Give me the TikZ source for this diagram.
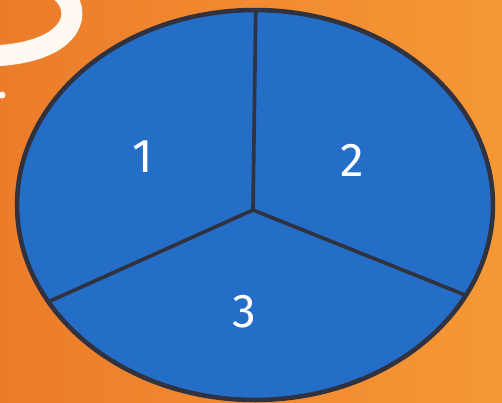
\documentclass[tikz,border=0pt]{standalone}
\usepackage{fontspec}
\setsansfont{Fira Sans}
\usepackage{xcolor}
\usetikzlibrary{calc}
\definecolor{bgOrange}{RGB}{236, 124, 42}
\definecolor{bgAmber}{RGB}{246, 152, 54}
\definecolor{pieBlue}{RGB}{36, 110, 200}
\definecolor{rimGrey}{RGB}{48, 50, 64}

\begin{document}
\begin{tikzpicture}[x=0.02cm, y=-0.02cm,
    num/.style={text=white, font=\fontsize{27}{30}\selectfont\sffamily},
    rim/.style={draw=rimGrey, line width=2.6pt},
    cut/.style={draw=rimGrey, line width=2.1pt}
]
\fill[left color=bgOrange, right color=bgAmber] (0,0) rectangle (502,402);
\useasboundingbox (0,0) rectangle (502,402);

% white letter stroke, top left
\draw[white!95!orange, line width=0.42cm] (52,-14) .. controls (84,0) and (86,52) .. (-8,56);
\fill[white!95!orange] (2,95) circle [radius=0.07cm];

\coordinate (hub)  at (253,210);
\coordinate (tipA) at (256,-10);
\coordinate (tipB) at (-10,328);
\coordinate (tipC) at (530,321);

\fill[pieBlue] (255,205) ellipse [x radius=4.76cm, y radius=3.9cm];
\begin{scope}
\clip (255,205) ellipse [x radius=4.76cm, y radius=3.9cm];
\draw[cut] (hub) -- (tipA);
\draw[cut] (hub) -- (tipB);
\draw[cut] (hub) -- (tipC);
\end{scope}
\draw[rim] (255,205) ellipse [x radius=4.76cm, y radius=3.9cm];

\node[num] (one)   at (143,157) {1};
\node[num] (two)   at (352,160) {2};
\node[num] (three) at (244,312) {3};
\end{tikzpicture}
\end{document}
